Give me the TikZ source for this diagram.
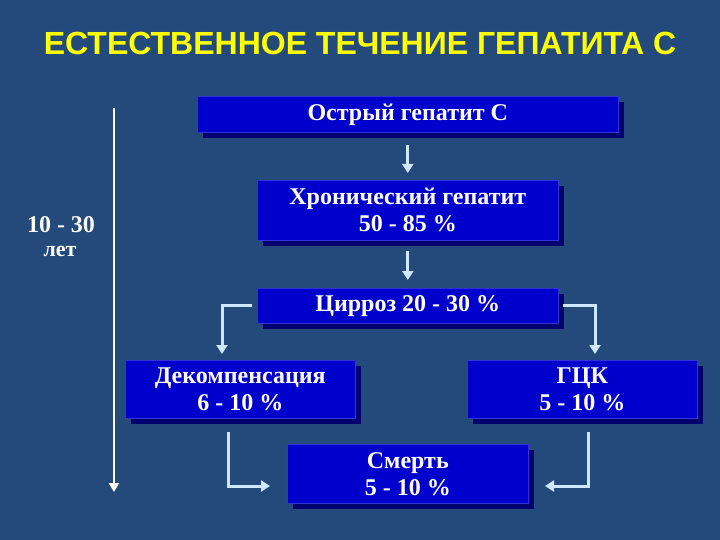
\documentclass[tikz,border=0pt]{standalone}
\usepackage{fontspec}
\setmainfont{Liberation Serif}
\newfontfamily\titlefont{Liberation Sans}
\usetikzlibrary{arrows.meta,shadows}
\definecolor{bg}{RGB}{35,74,122}
\definecolor{boxblue}{RGB}{0,0,204}
\definecolor{boxshadow}{RGB}{0,0,110}
\definecolor{arrowblue}{RGB}{205,232,255}
\definecolor{titleyellow}{RGB}{255,255,0}
\tikzset{
  x=1pt,y=-1pt,
  stagebox/.style={fill=boxblue, draw=boxblue!80!white, line width=0.6pt,
    drop shadow={shadow xshift=6pt, shadow yshift=-6pt, fill=boxshadow, opacity=1},
    text=white, font=\bfseries\fontsize{24}{27}\selectfont, align=center,
    inner sep=0pt, anchor=north west},
  flow/.style={draw=arrowblue, line width=3pt,
    -{Triangle[width=11pt,length=9pt]}},
  timeline/.style={draw=white, line width=2.5pt,
    -{Triangle[width=10pt,length=9pt]}},
  sidelabel/.style={text=white, inner sep=0pt, anchor=base}
}
\begin{document}
\begin{tikzpicture}
\fill[bg] (0,0) rectangle (720,540);
\useasboundingbox (0,0) rectangle (720,540);

\node[text=titleyellow, font=\titlefont\bfseries\fontsize{32}{34}\selectfont] (title) at (360,43) {ЕСТЕСТВЕННОЕ ТЕЧЕНИЕ ГЕПАТИТА С};

\node[stagebox, minimum width=421pt, minimum height=36pt] (acute) at (197,96) {Острый гепатит С};
\node[stagebox, minimum width=301pt, minimum height=60pt] (chronic) at (257,180) {Хронический гепатит\\50 - 85 \%};
\node[stagebox, minimum width=301pt, minimum height=35pt] (cirr) at (257,288) {Цирроз 20 - 30 \%};
\node[stagebox, minimum width=230pt, minimum height=58pt] (decomp) at (125,360) {Декомпенсация\\6 - 10 \%};
\node[stagebox, minimum width=230pt, minimum height=58pt] (hcc) at (467,360) {ГЦК\\5 - 10 \%};
\node[stagebox, minimum width=241pt, minimum height=59pt] (death) at (287,444) {Смерть\\5 - 10 \%};

\node[sidelabel, font=\bfseries\fontsize{24}{26}\selectfont] (yrs) at (61,233) {10 - 30};
\node[sidelabel, font=\bfseries\fontsize{22}{24}\selectfont] (let) at (60,256) {лет};

\coordinate (tl1) at (114,108);
\coordinate (tl2) at (114,492);
\draw[timeline] (tl1) -- (tl2);

\draw[flow] ([yshift=-12pt]acute.south) -- ([yshift=7pt]chronic.north);
\draw[flow] ([yshift=-10pt]chronic.south) -- ([yshift=8pt]cirr.north);

\coordinate (cl) at (252,305);
\coordinate (cr) at (563,305);
\draw[flow] (cl) -- (222,305) -- (222,354);
\draw[flow] (cr) -- (595,305) -- (595,354);

\coordinate (dl) at (228,432);
\coordinate (dr) at (588,432);
\draw[flow] (dl) -- (228,486) -- (270,486);
\draw[flow] (dr) -- (588,486) -- (545,486);
\end{tikzpicture}
\end{document}
